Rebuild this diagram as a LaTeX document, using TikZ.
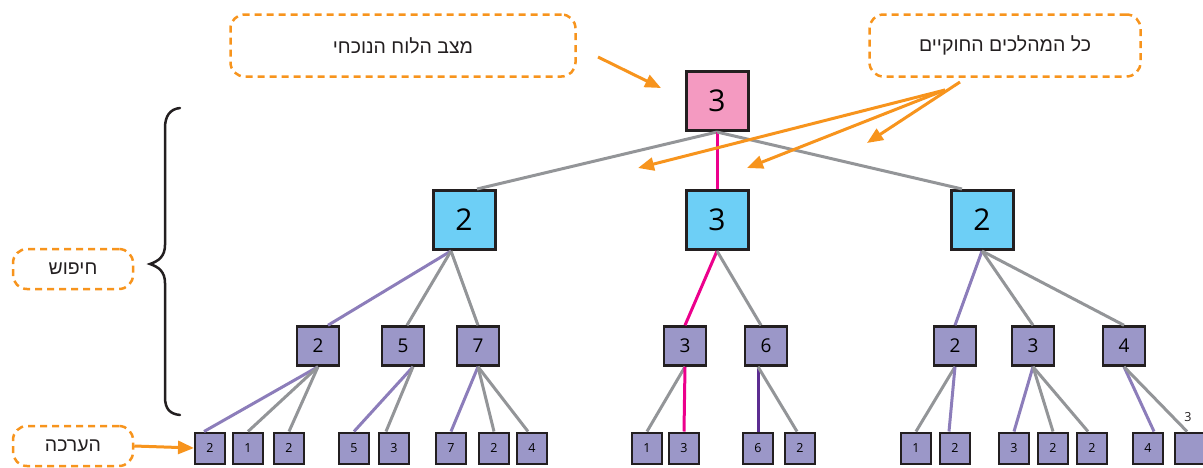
\documentclass[tikz,border=0pt]{standalone}
\usepackage{fontspec}
\setmainfont{Open Sans}
\newfontfamily\hebfont[Script=Hebrew]{Liberation Sans}
\TeXXeTstate=1
\usetikzlibrary{arrows.meta,calc}

\definecolor{rootpink}{HTML}{F49AC1}
\definecolor{skyblue}{HTML}{6DCFF6}
\definecolor{lavender}{HTML}{9B97C8}
\definecolor{boxline}{HTML}{231F20}
\definecolor{edgegray}{HTML}{939598}
\definecolor{edgepurple}{HTML}{8C7DBA}
\definecolor{edgepink}{HTML}{EC008C}
\definecolor{edgedeep}{HTML}{5C2D91}
\definecolor{calloutorange}{HTML}{F7941D}

\tikzset{
  bigbox/.style={draw=boxline, line width=3pt, minimum width=62pt, minimum height=59pt,
    inner sep=0pt, font=\fontsize{30}{30}\selectfont},
  midbox/.style={draw=boxline, fill=lavender, line width=2.5pt, minimum width=42pt,
    minimum height=39pt, inner sep=0pt, font=\fontsize{19}{19}\selectfont},
  leafbox/.style={draw=boxline, fill=lavender, line width=2pt, minimum width=30pt,
    minimum height=31pt, inner sep=0pt, font=\fontsize{12.5}{12.5}\selectfont},
  egray/.style={draw=edgegray, line width=3pt},
  epurple/.style={draw=edgepurple, line width=3pt},
  epink/.style={draw=edgepink, line width=3pt},
  edeep/.style={draw=edgedeep, line width=3pt},
  callout/.style={draw=calloutorange, dash pattern=on 7pt off 5pt, line width=2.5pt,
    rounded corners=14pt, inner sep=0pt, text=boxline,
    font=\hebfont\fontsize{19.5}{19.5}\selectfont},
  oarrow/.style={draw=calloutorange, line width=3pt,
    -{Triangle[length=16pt,width=13pt]}},
}

\begin{document}
\begin{tikzpicture}[x=1pt,y=-1pt]
\useasboundingbox (0,0) rectangle (1203,467);

% game tree: root and first ply
\node[bigbox, fill=rootpink] (root) at (717,101) {3};
\node[bigbox, fill=skyblue] (bl) at (464,220) {2};
\node[bigbox, fill=skyblue] (bm) at (717,220) {3};
\node[bigbox, fill=skyblue] (br) at (982,220) {2};

% second ply
\node[midbox] (l1) at (318,346) {2};
\node[midbox] (l2) at (403,346) {5};
\node[midbox] (l3) at (478,346) {7};
\node[midbox] (m1) at (685,346) {3};
\node[midbox] (m2) at (766,346) {6};
\node[midbox] (r1) at (955,346) {2};
\node[midbox] (r2) at (1033,346) {3};
\node[midbox] (r3) at (1124,346) {4};

% leaves (evaluated positions)
\node[leafbox] (l1a) at (210,448) {2};
\node[leafbox] (l1b) at (248,448) {1};
\node[leafbox] (l1c) at (289,448) {2};
\node[leafbox] (l2a) at (354,448) {5};
\node[leafbox] (l2b) at (394,448) {3};
\node[leafbox] (l3a) at (451,448) {7};
\node[leafbox] (l3b) at (494,448) {2};
\node[leafbox] (l3c) at (532,448) {4};
\node[leafbox] (m1a) at (647,448) {1};
\node[leafbox] (m1b) at (684,448) {3};
\node[leafbox] (m2a) at (758,448) {6};
\node[leafbox] (m2b) at (800,448) {2};
\node[leafbox] (r1a) at (916,448) {1};
\node[leafbox] (r1b) at (955,448) {2};
\node[leafbox] (r2a) at (1014,448) {3};
\node[leafbox] (r2b) at (1053,448) {2};
\node[leafbox] (r2c) at (1092,448) {2};
\node[leafbox] (r3a) at (1148,448) {4};
\node[leafbox] (r3b) at (1190,448) {};
\node[font=\fontsize{12.5}{12.5}\selectfont, text=boxline] (r3lab) at (1188,417) {3};

% edges
\draw[egray] (root.south) -- ($(bl.north)+(13,0)$);
\draw[epink] (root.south) -- (bm.north);
\draw[egray] (root.south) -- ($(br.north)+(-20,0)$);

\draw[epurple] ($(bl.south)+(-13,0)$) -- ($(l1.north)+(10,0)$);
\draw[egray] ($(bl.south)+(-13,0)$) -- ($(l2.north)+(4,0)$);
\draw[egray] ($(bl.south)+(-13,0)$) -- (l3.north);
\draw[epink] (bm.south) -- (m1.north);
\draw[egray] (bm.south) -- ($(m2.north)+(-5,0)$);
\draw[epurple] (br.south) -- (r1.north);
\draw[egray] (br.south) -- (r2.north);
\draw[egray] (br.south) -- (r3.north);

\draw[epurple] (l1.south) -- ($(l1a.north)+(-6,0)$);
\draw[egray] (l1.south) -- (l1b.north);
\draw[egray] (l1.south) -- (l1c.north);
\draw[epurple] ($(l2.south)+(10,0)$) -- (l2a.north);
\draw[egray] ($(l2.south)+(10,0)$) -- ($(l2b.north)+(-8,0)$);
\draw[epurple] (l3.south) -- (l3a.north);
\draw[egray] (l3.south) -- (l3b.north);
\draw[egray] (l3.south) -- ($(l3c.north)+(-4,0)$);
\draw[egray] (m1.south) -- (m1a.north);
\draw[epink] (m1.south) -- (m1b.north);
\draw[edeep] (m2a.north |- m2.south) -- (m2a.north);
\draw[egray] (m2a.north |- m2.south) -- ($(m2b.north)+(-3,0)$);
\draw[egray] (r1.south) -- (r1a.north);
\draw[epurple] (r1.south) -- ($(r1b.north)+(-6,0)$);
\draw[epurple] (r2.south) -- (r2a.north);
\draw[egray] (r2.south) -- (r2b.north);
\draw[egray] (r2.south) -- ($(r2c.north)+(-4,0)$);
\draw[epurple] (r3.south) -- ($(r3a.north)+(6,0)$);
\draw[egray] (r3.south) -- ($(r3b.north)+(-3,0)$);

% callouts
\node[callout, minimum width=345pt, minimum height=62pt] (cur) at (403,45.5) {\beginR מצב הלוח הנוכחי\endR};
\node[callout, minimum width=271pt, minimum height=62pt] (moves) at (1005,45.5) {\beginR כל המהלכים החוקיים\endR};
\node[callout, minimum width=120pt, minimum height=40pt] (search) at (73,269) {\beginR חיפוש\endR};
\node[callout, minimum width=120pt, minimum height=40pt] (evalc) at (73,446) {\beginR הערכה\endR};

% callout pointers
\coordinate (p0s) at (598,57);
\coordinate (p0e) at (661,88);
\coordinate (p1s) at (960,82);
\coordinate (p1e) at (867,143);
\coordinate (p2s) at (945,90);
\coordinate (p2e) at (747,168);
\coordinate (p3e) at (638,168);
\draw[oarrow] (p0s) -- (p0e);
\draw[oarrow] (p1s) -- (p1e);
\draw[oarrow] (p2s) -- (p2e);
\draw[oarrow] (p2s) -- (p3e);
\draw[oarrow] (evalc.east) -- (l1a.west);

% brace spanning the search plies
\draw[boxline, line width=2.5pt, line cap=round]
  (180,108) .. controls (170,109) and (165,116) .. (165,128)
  -- (165,245) .. controls (165,256) and (159,261) .. (150,264)
  .. controls (159,267) and (165,272) .. (165,283)
  -- (165,397) .. controls (165,409) and (170,414) .. (180,415);
\end{tikzpicture}
\end{document}
